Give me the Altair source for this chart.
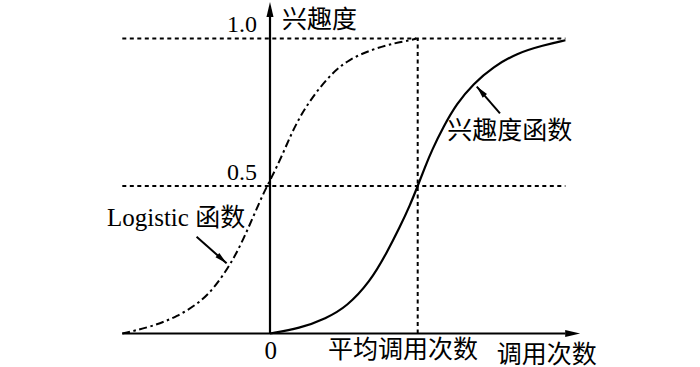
import altair as alt
import pandas as pd

# ---- data (x: calls, 0 = origin, 1 = average calls; y: interest 0..1)
logistic_x = [-1.0, -0.81, -0.63, -0.45, -0.34, -0.25, -0.18, -0.11, -0.045, 0.012, 0.079, 0.147, 0.215, 0.305, 0.418, 0.53, 0.69, 0.846, 0.96, 0.99]
logistic_y = [0.0, 0.022, 0.056, 0.113, 0.18, 0.25, 0.32, 0.40, 0.475, 0.53, 0.60, 0.68, 0.746, 0.814, 0.882, 0.928, 0.963, 0.985, 0.995, 1.0]

interest_x = [0.0, 0.20, 0.38, 0.52, 0.677, 0.79, 0.88, 0.948, 1.0, 1.05, 1.095, 1.173, 1.264, 1.377, 1.512, 1.67, 1.85, 2.0]
interest_y = [0.0, 0.017, 0.051, 0.091, 0.175, 0.273, 0.362, 0.435, 0.5, 0.565, 0.62, 0.70, 0.779, 0.847, 0.904, 0.95, 0.977, 0.994]

ref_levels = [1.0, 0.5]          # horizontal dotted guides
guide_x = [-1.0, 2.0]            # extent of horizontal guides
avg_calls = 1.0                  # vertical dotted guide
x_axis_extent = [-1.0, 2.0]
x_axis_tip = 2.1
y_axis_extent = [0.0, 1.1]
y_axis_tip = 1.124

# annotation arrows (start -> tip)
arrow_x = [-0.497, 1.557]
arrow_y = [0.328, 0.746]
arrow_tx = [-0.294, 1.40]
arrow_ty = [0.238, 0.837]
arrow_angle = [41.6, 228.8]

# labels
c_text = ["0", "平均调用次数", "调用次数", "Logistic 函数", "兴趣度函数"]
c_x = [0.005, 0.90, 1.873, -0.636, 1.623]
c_y = [-0.058, -0.056, -0.073, 0.392, 0.686]
r_text = ["1.0", "0.5"]
r_x = [-0.088, -0.088]
r_y = [1.046, 0.544]
l_text = ["兴趣度"]
l_x = [0.081]
l_y = [1.063]

# ---- scales mapping the picture
XD = [-270 / 147.7, 430 / 147.7]
YD = [(333.5 - 367) / 295, 333.5 / 295]
xs = alt.Scale(domain=XD, nice=False, zero=False)
ys = alt.Scale(domain=YD, nice=False, zero=False)
FONT = "Liberation Serif, Times New Roman, Noto Sans CJK SC"

def X(f):
    return alt.X(f, type="quantitative", scale=xs, axis=None)

def Y(f):
    return alt.Y(f, type="quantitative", scale=ys, axis=None)

hdf = pd.DataFrame({"y": ref_levels, "x": [guide_x[0]] * 2, "x2": [guide_x[1]] * 2})
hlines = alt.Chart(hdf).mark_rule(strokeDash=[4, 3.5], strokeWidth=2, color="black").encode(
    x=X("x"), x2="x2", y=Y("y"))

vdf = pd.DataFrame({"x": [avg_calls], "y": [0.0], "y2": [ref_levels[0]]})
vline = alt.Chart(vdf).mark_rule(strokeDash=[4, 3.5], strokeWidth=2, color="black").encode(
    x=X("x"), y=Y("y"), y2="y2")

xadf = pd.DataFrame({"x": [x_axis_extent[0]], "x2": [x_axis_extent[1]], "y": [0.0]})
xaxis = alt.Chart(xadf).mark_rule(strokeWidth=2.2, color="black").encode(x=X("x"), x2="x2", y=Y("y"))
yadf = pd.DataFrame({"x": [0.0], "y": [y_axis_extent[0]], "y2": [y_axis_extent[1]]})
yaxis = alt.Chart(yadf).mark_rule(strokeWidth=2.2, color="black").encode(x=X("x"), y=Y("y"), y2="y2")

ldf = pd.DataFrame({"x": logistic_x, "y": logistic_y})
logistic = alt.Chart(ldf).mark_line(color="black", strokeWidth=2, strokeDash=[8, 3.5, 2.5, 3.5],
                                    interpolate="basis").encode(x=X("x"), y=Y("y"))
idf = pd.DataFrame({"x": interest_x, "y": interest_y})
interest = alt.Chart(idf).mark_line(color="black", strokeWidth=2.2,
                                    interpolate="basis").encode(x=X("x"), y=Y("y"))

adf = pd.DataFrame({"x": arrow_x, "y": arrow_y, "x2": arrow_tx, "y2": arrow_ty})
arrow_lines = alt.Chart(adf).mark_rule(strokeWidth=2, color="black").encode(
    x=X("x"), y=Y("y"), x2="x2", y2="y2")

HEAD = "M0,0L-2,-0.47L-2,0.47Z"
hdf2 = pd.DataFrame({
    "x": arrow_tx + [x_axis_tip, 0.0],
    "y": arrow_ty + [0.0, y_axis_tip],
    "angle": arrow_angle + [0.0, 270.0],
    "size": [150, 150, 225, 225],
})
heads = alt.Chart(hdf2).mark_point(shape=HEAD, filled=True, color="black", opacity=1, strokeWidth=0).encode(
    x=X("x"), y=Y("y"),
    angle=alt.Angle("angle:Q", scale=None),
    size=alt.Size("size:Q", scale=None),
)

cdf = pd.DataFrame({"t": c_text, "x": c_x, "y": c_y})
ctext = alt.Chart(cdf).mark_text(font=FONT, fontSize=25, align="center", baseline="middle", color="black").encode(
    x=X("x"), y=Y("y"), text="t:N")
rdf = pd.DataFrame({"t": r_text, "x": r_x, "y": r_y})
rtext = alt.Chart(rdf).mark_text(font=FONT, fontSize=24, align="right", baseline="middle", color="black").encode(
    x=X("x"), y=Y("y"), text="t:N")
ltdf = pd.DataFrame({"t": l_text, "x": l_x, "y": l_y})
ltext = alt.Chart(ltdf).mark_text(font=FONT, fontSize=25, align="left", baseline="middle", color="black").encode(
    x=X("x"), y=Y("y"), text="t:N")

chart = alt.layer(hlines, vline, xaxis, yaxis, logistic, interest, arrow_lines, heads, ctext, rtext, ltext).properties(
    width=700, height=367, padding=0, autosize=alt.AutoSizeParams(type="none"),
    background="white",
).configure_view(stroke=None)

chart.save("out.html", embed_options={"renderer": "svg", "actions": False})
